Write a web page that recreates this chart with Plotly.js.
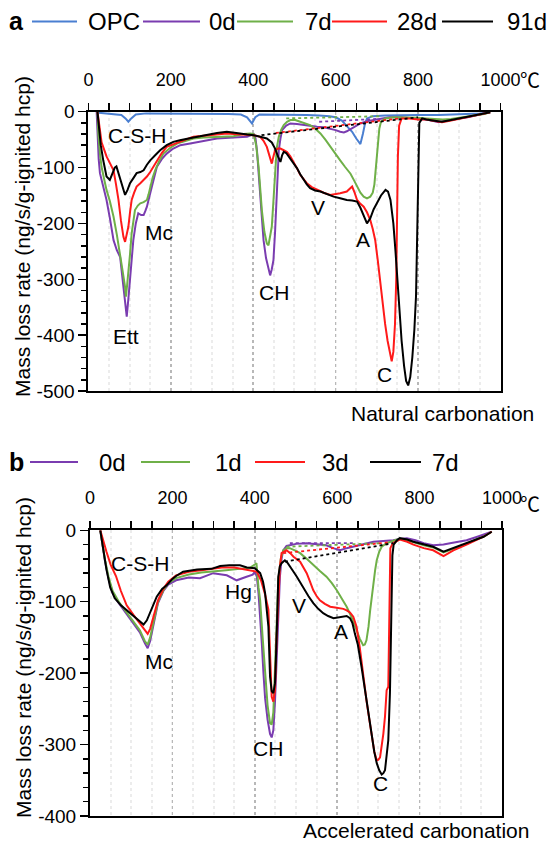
<!DOCTYPE html>
<html>
<head>
<meta charset="utf-8">
<script src="https://cdn.plot.ly/plotly-3.0.1.min.js"></script>
<style>html,body{margin:0;padding:0;background:#fff}#chart{width:550px;height:844px}</style>
</head>
<body>
<div id="chart"></div>
<script>
// ---------- DATA ----------
// x tick labels (°C) and y tick labels
const xTickVals = [0, 200, 400, 600, 800, 1000];
const xTickText = ['0', '200', '400', '600', '800', '1000'];
const yTickValsA = [0, -100, -200, -300, -400, -500];
const yTickTextA = ['0', '-100', '-200', '-300', '-400', '-500'];
const yTickValsB = [0, -100, -200, -300, -400];
const yTickTextB = ['0', '-100', '-200', '-300', '-400'];

// Panel a: natural carbonation, [temperature, mass loss rate]
const a_OPC = [[25,-2],[40,-3],[60,-4],[80,-6],[90,-12],[97,-18],[104,-12],[115,-5],[140,-3],[180,-3],[220,-3],[260,-3],[300,-3],[340,-4],[370,-5],[385,-10],[397,-21],[405,-10],[415,-5],[440,-5],[470,-6],[500,-6],[530,-6],[560,-7],[585,-8],[600,-10],[615,-16],[630,-28],[640,-36],[650,-48],[660,-58],[666,-40],[671,-22],[676,-12],[690,-8],[720,-7],[760,-6],[800,-6],[850,-6],[900,-5],[950,-3],[975,-1]];
const a_0d = [[20,0],[22,-51],[25,-85],[28,-110],[36,-135],[44,-158],[52,-190],[61,-230],[69,-248],[77,-260],[83,-300],[89,-338],[93,-367],[97,-335],[101,-302],[105,-265],[109,-230],[115,-200],[121,-182],[128,-185],[134,-185],[138,-178],[142,-170],[148,-152],[154,-134],[160,-116],[166,-99],[178,-85],[190,-75],[206,-66],[223,-60],[247,-57],[271,-54],[292,-51],[312,-48],[352,-46],[385,-45],[401,-40],[405,-45],[409,-69],[413,-110],[417,-158],[421,-195],[425,-230],[431,-262],[437,-284],[441,-293],[445,-282],[449,-266],[453,-215],[456,-158],[459,-110],[462,-69],[466,-48],[470,-33],[480,-25],[490,-21],[506,-22],[522,-24],[538,-25],[555,-27],[571,-28],[587,-30],[600,-33],[611,-36],[620,-37],[627,-35],[636,-31],[644,-27],[652,-24],[660,-21],[676,-17],[692,-15],[710,-12],[730,-10],[760,-10],[780,-11],[800,-12],[820,-14],[840,-17],[850,-19],[860,-17],[880,-14],[900,-12],[920,-10],[940,-7],[960,-4],[975,-1]];
const a_7d = [[22,0],[24,-39],[28,-75],[32,-99],[38,-120],[44,-140],[52,-160],[61,-188],[69,-220],[77,-254],[83,-285],[89,-314],[91,-331],[94,-310],[97,-290],[101,-255],[105,-218],[109,-192],[113,-176],[120,-168],[126,-164],[134,-162],[142,-158],[146,-148],[150,-134],[156,-118],[162,-105],[172,-88],[182,-75],[198,-65],[215,-57],[235,-52],[255,-48],[280,-46],[312,-45],[352,-44],[376,-40],[393,-39],[401,-40],[407,-60],[413,-99],[417,-140],[421,-177],[427,-215],[433,-236],[437,-239],[441,-225],[445,-206],[449,-160],[453,-99],[457,-65],[462,-45],[468,-32],[474,-24],[482,-18],[490,-15],[502,-15],[514,-18],[526,-21],[538,-24],[550,-30],[563,-39],[575,-50],[587,-63],[599,-75],[611,-87],[623,-99],[636,-111],[644,-122],[652,-134],[660,-145],[668,-152],[676,-155],[684,-152],[690,-145],[694,-130],[698,-100],[702,-60],[706,-30],[710,-18],[720,-12],[740,-10],[760,-10],[780,-10],[800,-11],[820,-12],[840,-13],[860,-14],[880,-13],[900,-11],[920,-9],[940,-7],[960,-4],[975,-1]];
const a_28d = [[22,0],[26,-25],[32,-55],[44,-80],[52,-92],[61,-105],[67,-130],[73,-158],[79,-195],[85,-224],[89,-233],[93,-220],[97,-206],[101,-180],[105,-158],[111,-145],[117,-134],[126,-128],[134,-122],[142,-116],[150,-108],[158,-98],[166,-87],[178,-74],[190,-63],[206,-58],[223,-54],[239,-49],[255,-45],[280,-43],[304,-42],[320,-41],[336,-39],[352,-40],[376,-41],[401,-42],[417,-45],[425,-52],[433,-63],[440,-82],[445,-93],[449,-80],[453,-69],[460,-66],[466,-66],[474,-69],[482,-72],[490,-80],[498,-90],[506,-101],[514,-113],[522,-121],[530,-128],[542,-135],[555,-140],[571,-145],[587,-149],[600,-148],[611,-146],[627,-143],[635,-138],[640,-134],[646,-145],[652,-158],[660,-165],[668,-170],[676,-180],[684,-194],[690,-210],[696,-230],[702,-265],[707,-300],[713,-338],[720,-380],[726,-410],[732,-435],[736,-447],[740,-430],[744,-380],[747,-300],[749,-200],[751,-80],[754,-25],[760,-12],[780,-12],[800,-14],[820,-14],[840,-16],[858,-19],[880,-16],[900,-13],[920,-10],[940,-7],[960,-4],[975,-1]];
const a_91d = [[22,0],[26,-30],[30,-60],[36,-87],[44,-116],[52,-122],[58,-112],[64,-100],[68,-98],[75,-115],[82,-135],[89,-149],[95,-140],[101,-128],[110,-118],[117,-110],[126,-108],[134,-105],[142,-95],[150,-87],[162,-78],[174,-69],[190,-60],[206,-54],[222,-51],[239,-48],[255,-46],[271,-44],[290,-41],[312,-38],[336,-36],[352,-37],[368,-39],[385,-41],[401,-42],[417,-45],[433,-48],[445,-55],[453,-66],[460,-80],[466,-90],[470,-78],[474,-72],[480,-74],[486,-80],[496,-90],[506,-101],[514,-112],[522,-122],[530,-130],[538,-137],[550,-141],[563,-143],[580,-148],[595,-152],[611,-155],[627,-158],[640,-159],[652,-161],[660,-172],[668,-185],[676,-200],[684,-191],[692,-175],[700,-164],[710,-150],[721,-140],[727,-143],[733,-158],[740,-200],[745,-248],[753,-338],[760,-410],[766,-455],[771,-482],[776,-490],[781,-475],[786,-440],[791,-390],[795,-330],[798,-200],[800,-80],[803,-20],[810,-12],[820,-14],[840,-16],[858,-18],[880,-15],[900,-12],[920,-10],[940,-7],[960,-4],[975,-1]];
// Panel a baselines (dotted)
const a_base_0d = [[560,-18],[700,-13]];
const a_base_7d = [[480,-12],[712,-8]];
const a_base_28d = [[455,-38],[755,-12]];
const a_base_91d = [[420,-42],[800,-10]];

// Panel b: accelerated carbonation
const b_0d = [[25,0],[30,-22],[36,-42],[45,-68],[55,-88],[70,-102],[89,-117],[105,-130],[121,-143],[133,-158],[140,-165],[146,-155],[155,-128],[165,-102],[178,-85],[190,-76],[209,-70],[240,-66],[267,-67],[299,-60],[332,-63],[356,-70],[380,-65],[395,-62],[400,-58],[405,-65],[409,-88],[413,-120],[417,-158],[421,-200],[425,-235],[431,-265],[437,-285],[441,-290],[445,-280],[449,-240],[453,-182],[457,-120],[461,-65],[465,-40],[469,-28],[477,-22],[485,-21],[500,-19],[526,-18],[550,-19],[574,-21],[590,-25],[607,-28],[623,-25],[639,-23],[660,-20],[688,-16],[712,-15],[736,-14],[752,-12],[769,-11],[790,-14],[810,-18],[833,-21],[858,-20],[874,-18],[900,-15],[914,-14],[940,-9],[955,-6],[975,-2]];
const b_1d = [[25,0],[30,-20],[36,-40],[45,-65],[55,-85],[70,-100],[89,-115],[105,-128],[121,-140],[133,-155],[140,-160],[146,-150],[155,-125],[165,-100],[178,-84],[190,-74],[209,-67],[240,-62],[270,-59],[300,-57],[330,-56],[364,-54],[390,-52],[400,-48],[404,-46],[409,-80],[413,-98],[419,-150],[425,-205],[431,-245],[437,-270],[441,-272],[445,-255],[449,-200],[453,-130],[457,-70],[463,-40],[469,-28],[477,-25],[485,-25],[497,-28],[510,-32],[526,-40],[542,-49],[558,-57],[574,-65],[587,-74],[599,-84],[611,-95],[623,-107],[635,-122],[647,-140],[655,-152],[663,-161],[667,-160],[671,-154],[676,-135],[680,-112],[684,-92],[688,-74],[692,-56],[696,-42],[702,-30],[708,-23],[720,-18],[740,-14],[752,-12],[770,-14],[785,-17],[810,-21],[833,-24],[858,-31],[882,-26],[914,-19],[940,-12],[955,-9],[975,-2]];
const b_3d = [[25,0],[32,-15],[40,-30],[50,-48],[63,-64],[75,-85],[89,-105],[105,-118],[121,-130],[133,-140],[140,-145],[146,-138],[155,-118],[165,-98],[178,-82],[190,-72],[209,-63],[240,-58],[270,-56],[295,-54],[320,-52],[350,-52],[381,-55],[405,-58],[415,-70],[425,-90],[433,-111],[437,-180],[441,-233],[445,-240],[449,-224],[453,-150],[457,-88],[461,-50],[465,-32],[477,-28],[486,-32],[494,-37],[510,-44],[518,-52],[526,-60],[534,-72],[542,-84],[550,-92],[558,-98],[570,-103],[583,-107],[595,-108],[607,-109],[615,-110],[623,-112],[631,-115],[639,-121],[643,-128],[647,-135],[655,-165],[662,-200],[671,-238],[678,-265],[684,-290],[690,-310],[696,-322],[700,-321],[704,-318],[708,-303],[712,-285],[716,-261],[720,-224],[724,-219],[726,-150],[727,-60],[729,-25],[735,-18],[752,-13],[770,-16],[785,-20],[810,-25],[833,-28],[858,-36],[882,-28],[914,-20],[940,-13],[955,-9],[975,-2]];
const b_7d = [[25,0],[30,-20],[35,-38],[40,-55],[49,-80],[60,-95],[75,-105],[89,-112],[105,-120],[121,-128],[130,-132],[138,-126],[150,-110],[162,-93],[175,-82],[186,-77],[200,-68],[209,-64],[226,-58],[260,-55],[295,-54],[316,-50],[338,-49],[364,-49],[381,-52],[400,-53],[413,-60],[420,-72],[425,-88],[429,-110],[433,-135],[437,-205],[441,-225],[445,-228],[449,-214],[451,-185],[453,-158],[455,-110],[457,-65],[461,-50],[465,-46],[473,-42],[480,-46],[485,-51],[494,-58],[502,-65],[510,-73],[518,-81],[530,-92],[542,-102],[554,-110],[566,-116],[578,-120],[591,-123],[603,-122],[615,-121],[623,-120],[631,-123],[637,-130],[643,-145],[650,-160],[659,-191],[665,-215],[671,-238],[678,-265],[684,-289],[690,-310],[696,-326],[702,-336],[708,-342],[712,-340],[716,-336],[720,-318],[724,-294],[728,-228],[730,-160],[732,-84],[734,-35],[737,-20],[745,-14],[752,-11],[770,-13],[785,-16],[810,-20],[833,-23],[858,-30],[882,-25],[914,-18],[940,-12],[955,-9],[975,-2]];
// Panel b baselines (dotted)
const b_base_0d = [[485,-18],[640,-18]];
const b_base_1d = [[477,-23],[704,-18]];
const b_base_3d = [[469,-32],[724,-17]];
const b_base_7d = [[473,-44],[736,-18]];

// Legends and peak labels
const legendA = ['OPC', '0d', '7d', '28d', '91d'];
const legendB = ['0d', '1d', '3d', '7d'];
const peaksA = [['C-S-H',119,-43],['Mc',172,-216],['Ett',92,-402],['CH',451,-323],['V',558,-171],['A',666,-229],['C',718,-470]];
const peaksB = [['C-S-H',121,-47],['Hg',360,-85],['Mc',167,-183],['CH',432,-305],['V',508,-105],['A',609,-142],['C',704,-355]];

// ---------- STYLE ----------
const W = 550, H = 844;
const FONT = 'Liberation Sans, Arial, sans-serif';
const COL = {OPC:'#4a7fd1', '0d':'#7a3cb0', '1d':'#6fb048', '7dA':'#6fb048', '3d':'#ff1a1a', '28d':'#ff1a1a', '7dB':'#000000', '91d':'#000000'};
const px = v => v / W;
const py = v => 1 - v / H;

function line(pts, color, xa, ya, dash, w) {
  return {x: pts.map(p => p[0]), y: pts.map(p => p[1]), xaxis: xa, yaxis: ya, type: 'scatter', mode: 'lines',
    line: {color: color, width: w || 2, dash: dash || 'solid'}, showlegend: false, hoverinfo: 'skip'};
}

const traces = [
  line(a_OPC, COL.OPC, 'x', 'y'),
  line(a_0d, COL['0d'], 'x', 'y'),
  line(a_7d, COL['7dA'], 'x', 'y'),
  line(a_28d, COL['28d'], 'x', 'y'),
  line(a_91d, COL['91d'], 'x', 'y'),
  line(a_base_0d, COL['0d'], 'x', 'y', 'dot', 1.8),
  line(a_base_7d, COL['7dA'], 'x', 'y', 'dot', 1.8),
  line(a_base_28d, COL['28d'], 'x', 'y', 'dot', 1.8),
  line(a_base_91d, COL['91d'], 'x', 'y', 'dot', 1.8),
  line(b_0d, COL['0d'], 'x2', 'y2'),
  line(b_1d, COL['1d'], 'x2', 'y2'),
  line(b_3d, COL['3d'], 'x2', 'y2'),
  line(b_7d, COL['7dB'], 'x2', 'y2'),
  line(b_base_0d, COL['0d'], 'x2', 'y2', 'dot', 1.8),
  line(b_base_1d, COL['1d'], 'x2', 'y2', 'dot', 1.8),
  line(b_base_3d, COL['3d'], 'x2', 'y2', 'dot', 1.8),
  line(b_base_7d, COL['7dB'], 'x2', 'y2', 'dot', 1.8)
];

function xAxis(domain, anchor) {
  return {domain: domain, anchor: anchor, side: 'top', range: [0, 1000], tickmode: 'array', tickvals: xTickVals, ticktext: xTickText,
    ticks: 'outside', ticklen: 7, tickwidth: 1.5, tickcolor: '#000', ticklabelstandoff: 10,
    showline: true, linewidth: 2, linecolor: '#000', mirror: true, zeroline: false,
    showgrid: true, gridcolor: '#b8b8b8', griddash: 'dot', gridwidth: 1.5,
    minor: {tickmode: 'linear', tick0: 0, dtick: 50, ticks: 'outside', ticklen: 7, tickwidth: 1.5, tickcolor: '#000', showgrid: true, gridcolor: '#ececec', gridwidth: 2},
    tickfont: {family: FONT, size: 18, color: '#000'}, fixedrange: true};
}
function yAxis(domain, anchor, range, vals, text) {
  return {domain: domain, anchor: anchor, range: range, tickmode: 'array', tickvals: vals, ticktext: text,
    ticks: 'outside', ticklen: 8, tickwidth: 1.5, tickcolor: '#000',
    showline: true, linewidth: 2, linecolor: '#000', mirror: true, zeroline: false, showgrid: false,
    minor: {tickmode: 'linear', tick0: 0, dtick: 20, ticks: 'outside', ticklen: 5, tickwidth: 1.5, tickcolor: '#000'},
    tickfont: {family: FONT, size: 19, color: '#000'}, fixedrange: true};
}

const annotations = [];
const shapes = [];
function txt(t, x, y, size, opts) {
  annotations.push(Object.assign({text: t, xref: 'paper', yref: 'paper', x: px(x), y: py(y), showarrow: false,
    xanchor: 'left', yanchor: 'middle', font: {family: FONT, size: size, color: '#000'}}, opts || {}));
}
function legLine(x0, x1, y, color) {
  shapes.push({type: 'line', xref: 'paper', yref: 'paper', x0: px(x0), x1: px(x1), y0: py(y), y1: py(y), line: {color: color, width: 2}});
}

// Legend a
txt('<b>a</b>', 7, 21, 25);
const legAx = [[32, 77, 86], [143, 200, 207], [237, 293, 303], [332, 387, 395], [442, 493, 505]];
const legAc = [COL.OPC, COL['0d'], COL['7dA'], COL['28d'], COL['91d']];
legendA.forEach((n, i) => { legLine(legAx[i][0], legAx[i][1], 21.5, legAc[i]); txt(n, legAx[i][2], 22, 24); });
// Legend b
const yLegB = 462;
txt('<b>b</b>', 7, yLegB, 25);
const legBx = [[30, 78, 97], [141, 190, 213], [255, 305, 320], [370, 421, 430]];
const legBc = [COL['0d'], COL['1d'], COL['3d'], COL['7dB']];
legendB.forEach((n, i) => { legLine(legBx[i][0], legBx[i][1], yLegB, legBc[i]); txt(n, legBx[i][2], yLegB + 0.5, 24); });

// ℃ after 1000
const CJK = 'Noto Sans CJK JP, Noto Sans CJK SC, sans-serif';
txt('℃', 518, 80, 20, {font: {family: CJK, size: 20, color: '#000'}});
txt('℃', 518, 503, 20, {font: {family: CJK, size: 20, color: '#000'}});
// axis titles
txt('Mass loss rate (ng/s/g-ignited hcp)', 23, 237, 21, {textangle: -90, xanchor: 'center', yanchor: 'middle'});
txt('Mass loss rate (ng/s/g-ignited hcp)', 23, 658, 21, {textangle: -90, xanchor: 'center', yanchor: 'middle'});
txt('Natural carbonation', 536, 413, 21, {xanchor: 'right'});
txt('Accelerated carbonation', 531, 830, 21, {xanchor: 'right'});

// peak labels in data coordinates
peaksA.forEach(p => annotations.push({text: p[0], x: p[1], y: p[2], xref: 'x', yref: 'y', showarrow: false, xanchor: 'center', yanchor: 'middle', font: {family: FONT, size: 21, color: '#000'}}));
peaksB.forEach(p => annotations.push({text: p[0], x: p[1], y: p[2], xref: 'x2', yref: 'y2', showarrow: false, xanchor: 'center', yanchor: 'middle', font: {family: FONT, size: 21, color: '#000'}}));

const layout = {
  width: W, height: H, margin: {l: 0, r: 0, t: 0, b: 0}, paper_bgcolor: '#fff', plot_bgcolor: '#fff', showlegend: false,
  xaxis: xAxis([px(88.4), px(500.5)], 'y'),
  yaxis: yAxis([py(391), py(111.7)], 'x', [-500, 0], yTickValsA, yTickTextA),
  xaxis2: xAxis([px(90), px(502)], 'y2'),
  yaxis2: yAxis([py(816), py(530.3)], 'x2', [-400, 0], yTickValsB, yTickTextB),
  annotations: annotations, shapes: shapes
};
Plotly.newPlot('chart', traces, layout, {staticPlot: true, displayModeBar: false});
</script>
</body>
</html>
